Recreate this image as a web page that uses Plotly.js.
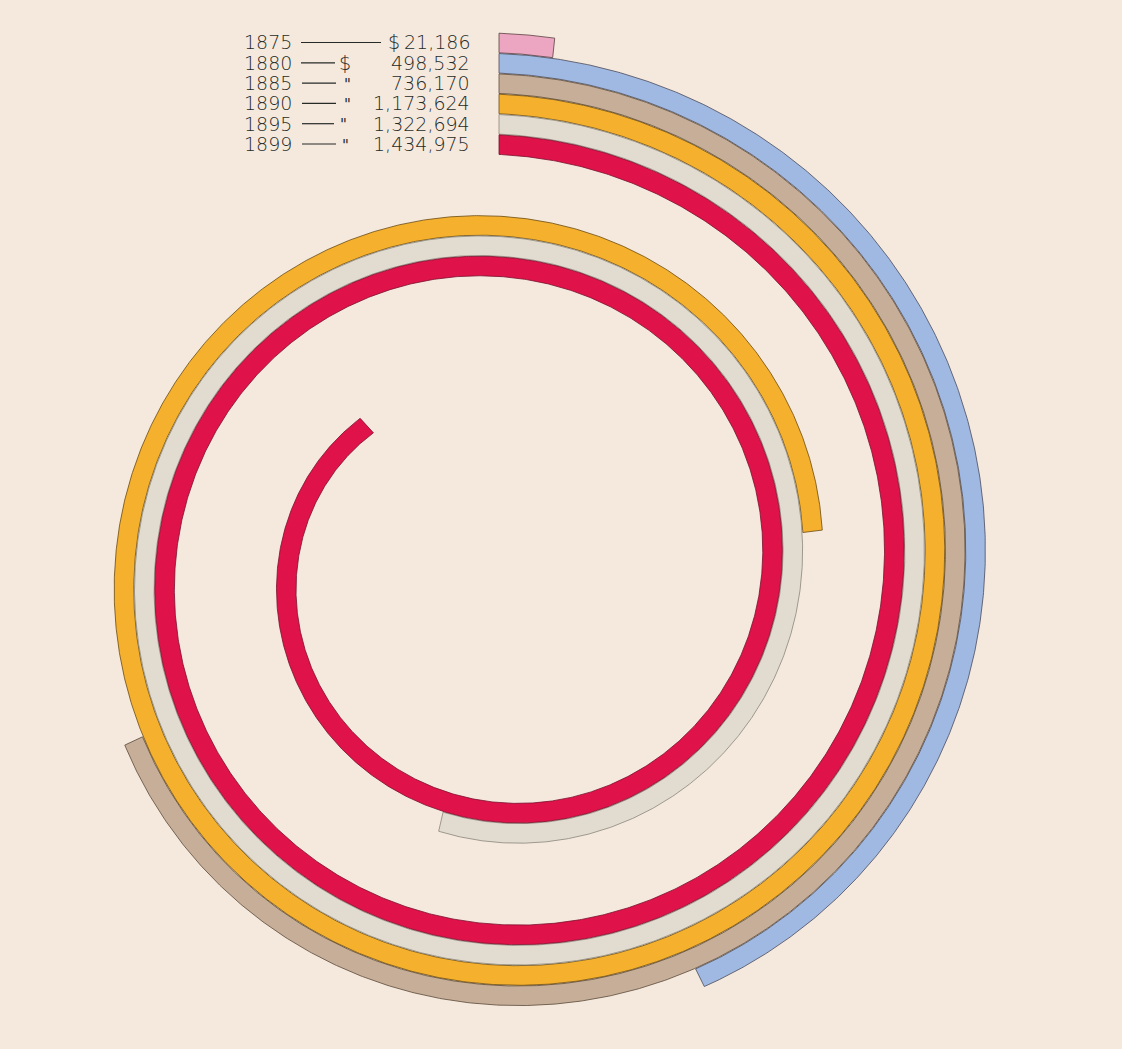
<!DOCTYPE html>
<html>
<head>
<meta charset="utf-8">
<script src="https://cdn.plot.ly/plotly-3.0.1.min.js"></script>
<style>
  html, body { margin: 0; padding: 0; background: #f5e9dd; }
  #chart { width: 1122px; height: 1049px; }
</style>
</head>
<body>
<div id="chart"></div>
<script>
// ---- data ----
const years = ['1875', '1880', '1885', '1890', '1895', '1899'];
const values = [21186, 498532, 736170, 1173624, 1322694, 1434975];
const valueLabels = ['21,186', '498,532', '736,170', '1,173,624', '1,322,694', '1,434,975'];
const prefixMarks = ['$', '$', '"', '"', '"', '"'];

// ---- styles ----
const barColors = ['#eca6c1', '#a0b9e2', '#c6ae99', '#f5b12e', '#e1dccf', '#e0124a'];
const edgeColors = ['#5a4040', '#4a4a5a', '#5a4a3a', '#6a4a10', '#8a857a', '#7a1030'];
const BG = '#f5e9dd';
const W = 1122, H = 1049;

// spiral geometry (axis units = screen pixels, origin at spiral centre)
const PITCH = 20.33;          // radial step between neighbouring bars
const R_OUTER = 527;          // centre-line radius of first bar at 12 o'clock
const DROP_PER_TURN = 6 * PITCH;
const BAR_W = 19.6;
const UNITS_PER_DOLLAR = 2640e-6; // outer-edge arc length along spiral per dollar
const b = DROP_PER_TURN / (2 * Math.PI);

const traces = [];
values.forEach((v, i) => {
  const R = R_OUTER - i * PITCH;
  const Ro = R + BAR_W / 2;
  const s = v * UNITS_PER_DOLLAR;
  const theta = (Ro - Math.sqrt(Ro * Ro - 2 * b * s)) / b; // sweep so that outer arc length = s
  const n = Math.max(4, Math.ceil(theta / 0.006));
  const xs = [], ys = [];
  for (let k = 0; k <= n; k++) {
    const t = theta * k / n;
    const r = R + BAR_W / 2 - b * t;
    xs.push(r * Math.sin(t)); ys.push(r * Math.cos(t));
  }
  for (let k = n; k >= 0; k--) {
    const t = theta * k / n;
    const r = R - BAR_W / 2 - b * t;
    xs.push(r * Math.sin(t)); ys.push(r * Math.cos(t));
  }
  xs.push(xs[0]); ys.push(ys[0]);
  traces.push({
    type: 'scatter', mode: 'lines', x: xs, y: ys,
    fill: 'toself', fillcolor: barColors[i],
    line: { color: edgeColors[i], width: 0.8 },
    hoverinfo: 'text', text: years[i] + ': $' + valueLabels[i],
    name: years[i]
  });
});

// label layout (pixels)
const rowY = years.map((_, i) => 42.5 + 20.3 * i);
const yearX = 242;
const dashStart = [301, 301, 302, 302, 302, 302];
const dashEnd = [381, 335, 336, 336, 334, 336];
const prefixX = [386, 337, 342, 342, 338, 340];
const numRight = 472;

const px = x => x / W, py = y => 1 - y / H;
const font = { family: 'DejaVu Sans, sans-serif', size: 19, color: '#262b28', weight: 300 };
const annotations = [];
const shapes = [];
years.forEach((yr, i) => {
  const ditto = prefixMarks[i] === '"';
  annotations.push({ xref: 'paper', yref: 'paper', x: px(yearX), y: py(rowY[i]),
    xanchor: 'left', yanchor: 'middle', text: yr, showarrow: false, font });
  annotations.push({ xref: 'paper', yref: 'paper', x: px(prefixX[i]), y: py(rowY[i] + (ditto ? 1.5 : 0)),
    xanchor: 'left', yanchor: 'middle', text: prefixMarks[i], showarrow: false,
    font: Object.assign({}, font, { size: ditto ? 15 : 19, weight: ditto ? 500 : 300 }) });
  annotations.push({ xref: 'paper', yref: 'paper', x: px(numRight), y: py(rowY[i]),
    xanchor: 'right', yanchor: 'middle', text: valueLabels[i], showarrow: false, font });
  shapes.push({ type: 'line', xref: 'paper', yref: 'paper',
    x0: px(dashStart[i]), x1: px(dashEnd[i]), y0: py(rowY[i]), y1: py(rowY[i]),
    line: { color: '#262b28', width: 1.2 } });
});

const layout = {
  width: W, height: H,
  margin: { l: 0, r: 0, t: 0, b: 0 },
  paper_bgcolor: BG, plot_bgcolor: BG,
  showlegend: false,
  xaxis: { range: [-499, W - 499], visible: false, fixedrange: true },
  yaxis: { range: [-(H - 570), 570], visible: false, fixedrange: true },
  annotations, shapes
};

Plotly.newPlot('chart', traces, layout, { displayModeBar: false, staticPlot: true });
</script>
</body>
</html>
